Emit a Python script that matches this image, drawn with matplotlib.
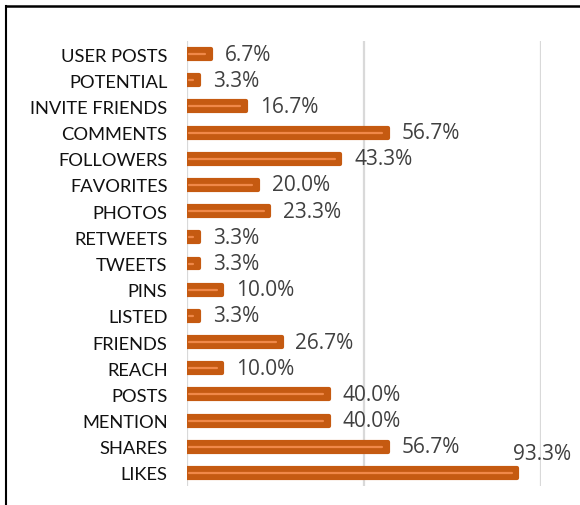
import matplotlib
matplotlib.use("Agg")
import matplotlib.pyplot as plt
from matplotlib.lines import Line2D

categories = ["USER POSTS", "POTENTIAL", "INVITE FRIENDS", "COMMENTS", "FOLLOWERS",
              "FAVORITES", "PHOTOS", "RETWEETS", "TWEETS", "PINS", "LISTED",
              "FRIENDS", "REACH", "POSTS", "MENTION", "SHARES", "LIKES"]
values = [6.7, 3.3, 16.7, 56.7, 43.3, 20.0, 23.3, 3.3, 3.3, 10.0, 3.3,
          26.7, 10.0, 40.0, 40.0, 56.7, 93.3]
labels = ["%.1f%%" % v for v in values]

W, H = 580, 506
fig = plt.figure(figsize=(W / 100, H / 100), dpi=100)
ax = fig.add_axes([187 / W, 1 - 487 / H, (541 - 187) / W, (487 - 42) / H])

n = len(categories)
ys = list(range(n))
bar_color = "#C55A11"
hl_color = "#F08848"

ax.barh(ys, values, height=0.38, color=bar_color, edgecolor=bar_color,
        linewidth=3, joinstyle="round", zorder=3)
for y, v in zip(ys, values):
    ax.plot([0.6, max(v - 1.6, 0.9)], [y, y], color=hl_color, lw=1.6,
            solid_capstyle="round", zorder=4)

for i, (y, v, t) in enumerate(zip(ys, values, labels)):
    if v > 90:
        ax.annotate(t, xy=(v, y), xytext=(-3, 14), textcoords="offset points",
                    ha="left", va="center", fontsize=15, color="#404040",
                    family="Open Sans", annotation_clip=False, zorder=5)
    else:
        ax.annotate(t, xy=(v, y), xytext=(10, 0), textcoords="offset points",
                    ha="left", va="center", fontsize=15, color="#404040",
                    family="Open Sans", annotation_clip=False, zorder=5)

ax.set_ylim(n - 0.5, -0.5)
ax.set_xlim(0, 100)
ax.set_yticks(ys)
ax.set_yticklabels(categories, family="Lato", fontsize=13.2, color="#111111")
ax.set_xticks([0, 50, 100])
ax.set_xticklabels([])
ax.tick_params(axis="both", length=0)
ax.tick_params(axis="y", pad=14)
ax.grid(axis="x", color="#D9D9D9", lw=1.6, zorder=0)
ax.grid(axis="y", visible=False)
for s in ax.spines.values():
    s.set_visible(False)

fig.add_artist(Line2D([6 / W, 1], [1 - 7 / H, 1 - 7 / H], color="black", lw=1.8,
                      transform=fig.transFigure))
fig.add_artist(Line2D([6 / W, 6 / W], [0, 1 - 7 / H], color="black", lw=1.5,
                      transform=fig.transFigure))

fig.savefig("out.png", dpi=100)
